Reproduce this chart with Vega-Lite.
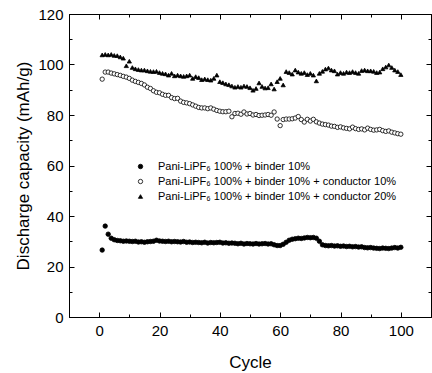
{
  "$schema": "https://vega.github.io/schema/vega-lite/v6.json",
  "width": 362,
  "height": 303,
  "autosize": "none",
  "padding": {"left": 69, "top": 14, "right": 1, "bottom": 56},
  "background": "white",
  "datasets": {
    "cap": [
      {"cycle":1,"series":"F","capacity":26.5},{"cycle":2,"series":"F","capacity":36.0},{"cycle":3,"series":"F","capacity":32.8},{"cycle":4,"series":"F","capacity":31.2},{"cycle":5,"series":"F","capacity":30.6},{"cycle":6,"series":"F","capacity":30.3},{"cycle":7,"series":"F","capacity":30.2},{"cycle":8,"series":"F","capacity":30.0},{"cycle":9,"series":"F","capacity":30.1},{"cycle":10,"series":"F","capacity":30.0},
      {"cycle":11,"series":"F","capacity":29.9},{"cycle":12,"series":"F","capacity":30.0},{"cycle":13,"series":"F","capacity":29.7},{"cycle":14,"series":"F","capacity":29.8},{"cycle":15,"series":"F","capacity":29.6},{"cycle":16,"series":"F","capacity":29.8},{"cycle":17,"series":"F","capacity":29.9},{"cycle":18,"series":"F","capacity":30.0},{"cycle":19,"series":"F","capacity":30.4},{"cycle":20,"series":"F","capacity":30.1},
      {"cycle":21,"series":"F","capacity":30.0},{"cycle":22,"series":"F","capacity":29.9},{"cycle":23,"series":"F","capacity":30.0},{"cycle":24,"series":"F","capacity":29.8},{"cycle":25,"series":"F","capacity":29.9},{"cycle":26,"series":"F","capacity":29.8},{"cycle":27,"series":"F","capacity":29.7},{"cycle":28,"series":"F","capacity":29.9},{"cycle":29,"series":"F","capacity":29.6},{"cycle":30,"series":"F","capacity":29.7},
      {"cycle":31,"series":"F","capacity":29.5},{"cycle":32,"series":"F","capacity":29.6},{"cycle":33,"series":"F","capacity":29.5},{"cycle":34,"series":"F","capacity":29.4},{"cycle":35,"series":"F","capacity":29.6},{"cycle":36,"series":"F","capacity":29.3},{"cycle":37,"series":"F","capacity":29.5},{"cycle":38,"series":"F","capacity":29.4},{"cycle":39,"series":"F","capacity":29.5},{"cycle":40,"series":"F","capacity":29.6},
      {"cycle":41,"series":"F","capacity":29.3},{"cycle":42,"series":"F","capacity":29.4},{"cycle":43,"series":"F","capacity":29.2},{"cycle":44,"series":"F","capacity":29.3},{"cycle":45,"series":"F","capacity":29.2},{"cycle":46,"series":"F","capacity":29.0},{"cycle":47,"series":"F","capacity":29.2},{"cycle":48,"series":"F","capacity":28.9},{"cycle":49,"series":"F","capacity":29.1},{"cycle":50,"series":"F","capacity":29.0},
      {"cycle":51,"series":"F","capacity":28.9},{"cycle":52,"series":"F","capacity":29.1},{"cycle":53,"series":"F","capacity":28.9},{"cycle":54,"series":"F","capacity":29.0},{"cycle":55,"series":"F","capacity":29.1},{"cycle":56,"series":"F","capacity":28.9},{"cycle":57,"series":"F","capacity":29.0},{"cycle":58,"series":"F","capacity":28.6},{"cycle":59,"series":"F","capacity":28.3},{"cycle":60,"series":"F","capacity":28.3},
      {"cycle":61,"series":"F","capacity":28.8},{"cycle":62,"series":"F","capacity":29.6},{"cycle":63,"series":"F","capacity":30.4},{"cycle":64,"series":"F","capacity":30.8},{"cycle":65,"series":"F","capacity":31.0},{"cycle":66,"series":"F","capacity":31.2},{"cycle":67,"series":"F","capacity":31.1},{"cycle":68,"series":"F","capacity":31.3},{"cycle":69,"series":"F","capacity":31.5},{"cycle":70,"series":"F","capacity":31.4},
      {"cycle":71,"series":"F","capacity":31.5},{"cycle":72,"series":"F","capacity":31.2},{"cycle":73,"series":"F","capacity":30.0},{"cycle":74,"series":"F","capacity":28.6},{"cycle":75,"series":"F","capacity":28.3},{"cycle":76,"series":"F","capacity":28.2},{"cycle":77,"series":"F","capacity":28.3},{"cycle":78,"series":"F","capacity":28.1},{"cycle":79,"series":"F","capacity":28.2},{"cycle":80,"series":"F","capacity":28.0},
      {"cycle":81,"series":"F","capacity":28.1},{"cycle":82,"series":"F","capacity":27.9},{"cycle":83,"series":"F","capacity":28.0},{"cycle":84,"series":"F","capacity":27.8},{"cycle":85,"series":"F","capacity":27.9},{"cycle":86,"series":"F","capacity":27.7},{"cycle":87,"series":"F","capacity":27.8},{"cycle":88,"series":"F","capacity":27.5},{"cycle":89,"series":"F","capacity":27.4},{"cycle":90,"series":"F","capacity":27.5},
      {"cycle":91,"series":"F","capacity":27.3},{"cycle":92,"series":"F","capacity":27.2},{"cycle":93,"series":"F","capacity":27.1},{"cycle":94,"series":"F","capacity":27.3},{"cycle":95,"series":"F","capacity":27.2},{"cycle":96,"series":"F","capacity":27.1},{"cycle":97,"series":"F","capacity":27.3},{"cycle":98,"series":"F","capacity":27.5},{"cycle":99,"series":"F","capacity":27.3},{"cycle":100,"series":"F","capacity":27.6},

      {"cycle":1,"series":"O","capacity":94.2},{"cycle":2,"series":"O","capacity":97.0},{"cycle":3,"series":"O","capacity":97.0},{"cycle":4,"series":"O","capacity":96.6},{"cycle":5,"series":"O","capacity":96.3},{"cycle":6,"series":"O","capacity":96.0},{"cycle":7,"series":"O","capacity":95.7},{"cycle":8,"series":"O","capacity":95.3},{"cycle":9,"series":"O","capacity":95.0},{"cycle":10,"series":"O","capacity":94.5},
      {"cycle":11,"series":"O","capacity":93.8},{"cycle":12,"series":"O","capacity":93.3},{"cycle":13,"series":"O","capacity":92.9},{"cycle":14,"series":"O","capacity":92.5},{"cycle":15,"series":"O","capacity":91.9},{"cycle":16,"series":"O","capacity":91.0},{"cycle":17,"series":"O","capacity":90.5},{"cycle":18,"series":"O","capacity":89.6},{"cycle":19,"series":"O","capacity":89.0},{"cycle":20,"series":"O","capacity":88.8},
      {"cycle":21,"series":"O","capacity":88.2},{"cycle":22,"series":"O","capacity":87.8},{"cycle":23,"series":"O","capacity":87.8},{"cycle":24,"series":"O","capacity":86.9},{"cycle":25,"series":"O","capacity":86.5},{"cycle":26,"series":"O","capacity":86.6},{"cycle":27,"series":"O","capacity":85.5},{"cycle":28,"series":"O","capacity":85.0},{"cycle":29,"series":"O","capacity":84.8},{"cycle":30,"series":"O","capacity":84.5},
      {"cycle":31,"series":"O","capacity":84.0},{"cycle":32,"series":"O","capacity":83.5},{"cycle":33,"series":"O","capacity":83.0},{"cycle":34,"series":"O","capacity":82.8},{"cycle":35,"series":"O","capacity":82.8},{"cycle":36,"series":"O","capacity":82.5},{"cycle":37,"series":"O","capacity":82.8},{"cycle":38,"series":"O","capacity":82.3},{"cycle":39,"series":"O","capacity":81.8},{"cycle":40,"series":"O","capacity":81.5},
      {"cycle":41,"series":"O","capacity":81.3},{"cycle":42,"series":"O","capacity":81.3},{"cycle":43,"series":"O","capacity":81.5},{"cycle":44,"series":"O","capacity":79.3},{"cycle":45,"series":"O","capacity":80.6},{"cycle":46,"series":"O","capacity":80.7},{"cycle":47,"series":"O","capacity":80.3},{"cycle":48,"series":"O","capacity":81.2},{"cycle":49,"series":"O","capacity":80.4},{"cycle":50,"series":"O","capacity":80.6},
      {"cycle":51,"series":"O","capacity":80.0},{"cycle":52,"series":"O","capacity":80.2},{"cycle":53,"series":"O","capacity":79.8},{"cycle":54,"series":"O","capacity":79.9},{"cycle":55,"series":"O","capacity":80.0},{"cycle":56,"series":"O","capacity":80.2},{"cycle":57,"series":"O","capacity":79.9},{"cycle":58,"series":"O","capacity":81.2},{"cycle":59,"series":"O","capacity":78.4},{"cycle":60,"series":"O","capacity":75.8},
      {"cycle":61,"series":"O","capacity":78.2},{"cycle":62,"series":"O","capacity":78.4},{"cycle":63,"series":"O","capacity":78.4},{"cycle":64,"series":"O","capacity":78.5},{"cycle":65,"series":"O","capacity":78.8},{"cycle":66,"series":"O","capacity":79.4},{"cycle":67,"series":"O","capacity":78.2},{"cycle":68,"series":"O","capacity":77.2},{"cycle":69,"series":"O","capacity":78.3},{"cycle":70,"series":"O","capacity":77.6},
      {"cycle":71,"series":"O","capacity":78.3},{"cycle":72,"series":"O","capacity":77.3},{"cycle":73,"series":"O","capacity":76.8},{"cycle":74,"series":"O","capacity":76.4},{"cycle":75,"series":"O","capacity":76.2},{"cycle":76,"series":"O","capacity":76.0},{"cycle":77,"series":"O","capacity":75.6},{"cycle":78,"series":"O","capacity":75.5},{"cycle":79,"series":"O","capacity":75.1},{"cycle":80,"series":"O","capacity":75.3},
      {"cycle":81,"series":"O","capacity":74.9},{"cycle":82,"series":"O","capacity":74.7},{"cycle":83,"series":"O","capacity":74.5},{"cycle":84,"series":"O","capacity":75.2},{"cycle":85,"series":"O","capacity":74.6},{"cycle":86,"series":"O","capacity":74.3},{"cycle":87,"series":"O","capacity":74.5},{"cycle":88,"series":"O","capacity":74.1},{"cycle":89,"series":"O","capacity":74.8},{"cycle":90,"series":"O","capacity":74.3},
      {"cycle":91,"series":"O","capacity":74.0},{"cycle":92,"series":"O","capacity":74.1},{"cycle":93,"series":"O","capacity":74.3},{"cycle":94,"series":"O","capacity":73.8},{"cycle":95,"series":"O","capacity":73.5},{"cycle":96,"series":"O","capacity":73.7},{"cycle":97,"series":"O","capacity":73.2},{"cycle":98,"series":"O","capacity":72.9},{"cycle":99,"series":"O","capacity":72.6},{"cycle":100,"series":"O","capacity":72.4},

      {"cycle":1,"series":"T","capacity":103.8},{"cycle":2,"series":"T","capacity":104.0},{"cycle":3,"series":"T","capacity":103.8},{"cycle":4,"series":"T","capacity":104.0},{"cycle":5,"series":"T","capacity":103.6},{"cycle":6,"series":"T","capacity":103.5},{"cycle":7,"series":"T","capacity":103.0},{"cycle":8,"series":"T","capacity":102.5},{"cycle":9,"series":"T","capacity":99.5},{"cycle":10,"series":"T","capacity":101.3},
      {"cycle":11,"series":"T","capacity":98.8},{"cycle":12,"series":"T","capacity":98.3},{"cycle":13,"series":"T","capacity":98.0},{"cycle":14,"series":"T","capacity":97.8},{"cycle":15,"series":"T","capacity":97.8},{"cycle":16,"series":"T","capacity":97.5},{"cycle":17,"series":"T","capacity":97.3},{"cycle":18,"series":"T","capacity":97.2},{"cycle":19,"series":"T","capacity":97.3},{"cycle":20,"series":"T","capacity":96.8},
      {"cycle":21,"series":"T","capacity":96.5},{"cycle":22,"series":"T","capacity":96.3},{"cycle":23,"series":"T","capacity":95.8},{"cycle":24,"series":"T","capacity":96.5},{"cycle":25,"series":"T","capacity":95.5},{"cycle":26,"series":"T","capacity":95.8},{"cycle":27,"series":"T","capacity":95.5},{"cycle":28,"series":"T","capacity":95.3},{"cycle":29,"series":"T","capacity":95.5},{"cycle":30,"series":"T","capacity":95.8},
      {"cycle":31,"series":"T","capacity":94.5},{"cycle":32,"series":"T","capacity":95.2},{"cycle":33,"series":"T","capacity":94.8},{"cycle":34,"series":"T","capacity":94.0},{"cycle":35,"series":"T","capacity":94.3},{"cycle":36,"series":"T","capacity":94.0},{"cycle":37,"series":"T","capacity":93.8},{"cycle":38,"series":"T","capacity":94.5},{"cycle":39,"series":"T","capacity":95.8},{"cycle":40,"series":"T","capacity":93.2},
      {"cycle":41,"series":"T","capacity":92.8},{"cycle":42,"series":"T","capacity":92.3},{"cycle":43,"series":"T","capacity":92.0},{"cycle":44,"series":"T","capacity":91.5},{"cycle":45,"series":"T","capacity":91.0},{"cycle":46,"series":"T","capacity":91.3},{"cycle":47,"series":"T","capacity":91.0},{"cycle":48,"series":"T","capacity":91.5},{"cycle":49,"series":"T","capacity":91.3},{"cycle":50,"series":"T","capacity":90.8},
      {"cycle":51,"series":"T","capacity":89.8},{"cycle":52,"series":"T","capacity":90.5},{"cycle":53,"series":"T","capacity":92.7},{"cycle":54,"series":"T","capacity":91.3},{"cycle":55,"series":"T","capacity":90.7},{"cycle":56,"series":"T","capacity":90.8},{"cycle":57,"series":"T","capacity":92.3},{"cycle":58,"series":"T","capacity":90.3},{"cycle":59,"series":"T","capacity":93.2},{"cycle":60,"series":"T","capacity":94.5},
      {"cycle":61,"series":"T","capacity":91.9},{"cycle":62,"series":"T","capacity":97.2},{"cycle":63,"series":"T","capacity":96.8},{"cycle":64,"series":"T","capacity":96.2},{"cycle":65,"series":"T","capacity":97.8},{"cycle":66,"series":"T","capacity":97.0},{"cycle":67,"series":"T","capacity":96.5},{"cycle":68,"series":"T","capacity":96.8},{"cycle":69,"series":"T","capacity":96.0},{"cycle":70,"series":"T","capacity":96.5},
      {"cycle":71,"series":"T","capacity":95.8},{"cycle":72,"series":"T","capacity":93.5},{"cycle":73,"series":"T","capacity":96.5},{"cycle":74,"series":"T","capacity":97.3},{"cycle":75,"series":"T","capacity":98.2},{"cycle":76,"series":"T","capacity":98.6},{"cycle":77,"series":"T","capacity":97.8},{"cycle":78,"series":"T","capacity":97.5},{"cycle":79,"series":"T","capacity":96.2},{"cycle":80,"series":"T","capacity":96.8},
      {"cycle":81,"series":"T","capacity":96.5},{"cycle":82,"series":"T","capacity":97.0},{"cycle":83,"series":"T","capacity":96.8},{"cycle":84,"series":"T","capacity":97.2},{"cycle":85,"series":"T","capacity":96.8},{"cycle":86,"series":"T","capacity":96.5},{"cycle":87,"series":"T","capacity":97.6},{"cycle":88,"series":"T","capacity":97.8},{"cycle":89,"series":"T","capacity":97.5},{"cycle":90,"series":"T","capacity":97.5},
      {"cycle":91,"series":"T","capacity":97.3},{"cycle":92,"series":"T","capacity":96.8},{"cycle":93,"series":"T","capacity":97.0},{"cycle":94,"series":"T","capacity":98.3},{"cycle":95,"series":"T","capacity":99.0},{"cycle":96,"series":"T","capacity":99.8},{"cycle":97,"series":"T","capacity":98.8},{"cycle":98,"series":"T","capacity":97.8},{"cycle":99,"series":"T","capacity":97.2},{"cycle":100,"series":"T","capacity":96.0}
    ]
  },
  "data": {"name": "cap"},
  "layer": [
    {
      "mark": {"type": "point", "filled": false, "opacity": 1, "strokeWidth": 0.8},
      "encoding": {
        "x": {
          "field": "cycle", "type": "quantitative",
          "scale": {"domain": [-10, 110], "nice": false, "zero": false},
          "axis": {
            "orient": "bottom",
            "title": "Cycle",
            "values": [0,10,20,30,40,50,60,70,80,90,100],
            "labelExpr": "datum.value % 20 === 0 ? datum.label : ''",
            "tickSize": {"condition": {"test": "datum.value % 20 === 0", "value": -5}, "value": -3},
            "labelPadding": 11,
            "titlePadding": 14,
            "labelFlush": false,
            "labelOverlap": false
          }
        },
        "y": {
          "field": "capacity", "type": "quantitative",
          "scale": {"domain": [0, 120], "nice": false},
          "axis": {
            "orient": "left",
            "title": "Discharge capacity (mAh/g)",
            "values": [0,10,20,30,40,50,60,70,80,90,100,110,120],
            "labelExpr": "datum.value % 20 === 0 ? datum.label : ''",
            "tickSize": {"condition": {"test": "datum.value % 20 === 0", "value": -5}, "value": -3},
            "labelPadding": 11,
            "titlePadding": 5,
            "labelFlush": false,
            "labelOverlap": false
          }
        },
        "shape": {
          "field": "series", "type": "nominal",
          "scale": {"domain": ["F", "O", "T"], "range": ["circle", "circle", "triangle-up"]},
          "legend": {
            "orient": "none", "legendX": 66, "legendY": 147, "title": null,
            "labelExpr": "datum.label === 'F' ? 'Pani-LiPF₆ 100% + binder 10%' : datum.label === 'O' ? 'Pani-LiPF₆ 100% + binder 10% + conductor 10%' : 'Pani-LiPF₆ 100% + binder 10% + conductor 20%'"
          }
        },
        "fill": {
          "field": "series", "type": "nominal",
          "scale": {"domain": ["F", "O", "T"], "range": ["black", "white", "black"]},
          "legend": {
            "orient": "none", "legendX": 66, "legendY": 147, "title": null,
            "labelExpr": "datum.label === 'F' ? 'Pani-LiPF₆ 100% + binder 10%' : datum.label === 'O' ? 'Pani-LiPF₆ 100% + binder 10% + conductor 10%' : 'Pani-LiPF₆ 100% + binder 10% + conductor 20%'"
          }
        },
        "stroke": {
          "field": "series", "type": "nominal",
          "scale": {"domain": ["F", "O", "T"], "range": ["black", "black", "black"]},
          "legend": {
            "orient": "none", "legendX": 66, "legendY": 147, "title": null,
            "labelExpr": "datum.label === 'F' ? 'Pani-LiPF₆ 100% + binder 10%' : datum.label === 'O' ? 'Pani-LiPF₆ 100% + binder 10% + conductor 10%' : 'Pani-LiPF₆ 100% + binder 10% + conductor 20%'"
          }
        },
        "size": {
          "field": "series", "type": "nominal",
          "scale": {"domain": ["F", "O", "T"], "range": [20, 18, 40]},
          "legend": {
            "orient": "none", "legendX": 66, "legendY": 147, "title": null,
            "labelExpr": "datum.label === 'F' ? 'Pani-LiPF₆ 100% + binder 10%' : datum.label === 'O' ? 'Pani-LiPF₆ 100% + binder 10% + conductor 10%' : 'Pani-LiPF₆ 100% + binder 10% + conductor 20%'"
          }
        }
      }
    },
    {
      "mark": {"type": "point", "opacity": 0},
      "encoding": {
        "x": {
          "field": "cycle", "type": "quantitative",
          "axis": {
            "orient": "top", "title": null, "labels": false,
            "values": [0,10,20,30,40,50,60,70,80,90,100],
            "tickSize": {"condition": {"test": "datum.value % 20 === 0", "value": -5}, "value": -3}
          }
        },
        "y": {
          "field": "capacity", "type": "quantitative",
          "axis": {
            "orient": "right", "title": null, "labels": false,
            "values": [0,10,20,30,40,50,60,70,80,90,100,110,120],
            "tickSize": {"condition": {"test": "datum.value % 20 === 0", "value": -5}, "value": -3}
          }
        }
      }
    }
  ],
  "resolve": {"axis": {"x": "independent", "y": "independent"}},
  "config": {
    "font": "Liberation Sans",
    "view": {"stroke": "black", "strokeWidth": 1},
    "axis": {
      "grid": false,
      "domainColor": "black",
      "domainWidth": 1,
      "tickColor": "black",
      "tickWidth": 1,
      "labelColor": "black",
      "labelFont": "Liberation Sans",
      "labelFontSize": 15,
      "titleColor": "black",
      "titleFont": "Liberation Sans",
      "titleFontSize": 17,
      "titleFontWeight": "normal"
    },
    "legend": {
      "labelFont": "Liberation Sans",
      "labelFontSize": 11,
      "labelColor": "black",
      "labelLimit": 400,
      "symbolStrokeWidth": 0.8,
      "labelOffset": 12,
      "rowPadding": 3,
      "padding": 0
    }
  }
}
